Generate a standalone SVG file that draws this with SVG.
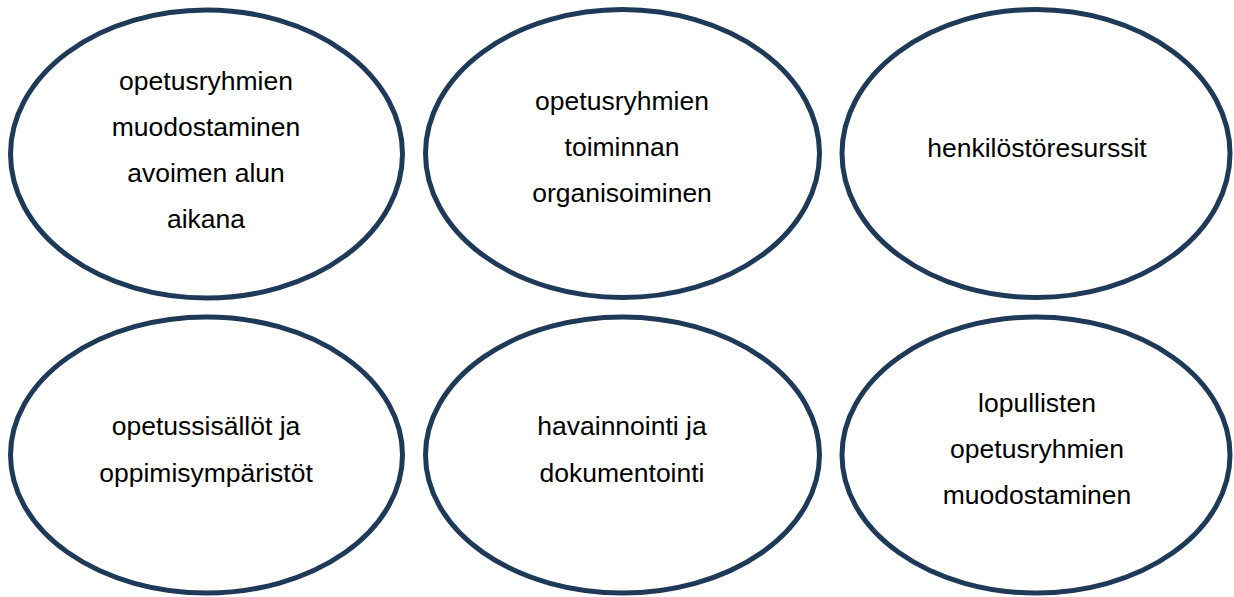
<svg xmlns="http://www.w3.org/2000/svg" width="1234" height="597" viewBox="0 0 1234 597">
<style>
.n{fill:#ffffff;stroke:#1f3a58;stroke-width:5}
.t{font-family:"Liberation Sans",Arial,sans-serif;font-size:26.5px;fill:#000000;text-anchor:middle}
</style>
<rect width="1234" height="597" fill="#ffffff"/>
<g id="connectors"></g>
<g id="n1"><ellipse class="n" cx="206.5" cy="154" rx="196" ry="144"/>
<text class="t"><tspan x="206" y="90">opetusryhmien</tspan><tspan x="206" y="136">muodostaminen</tspan><tspan x="206" y="182">avoimen alun</tspan><tspan x="206" y="228">aikana</tspan></text></g>
<g id="n2"><ellipse class="n" cx="622.5" cy="153.5" rx="197" ry="144"/>
<text class="t"><tspan x="622" y="110">opetusryhmien</tspan><tspan x="622" y="156">toiminnan</tspan><tspan x="622" y="202">organisoiminen</tspan></text></g>
<g id="n3"><ellipse class="n" cx="1036" cy="153.5" rx="194" ry="144"/>
<text class="t"><tspan x="1037" y="157">henkilöstöresurssit</tspan></text></g>
<g id="n4"><ellipse class="n" cx="206.5" cy="455" rx="196" ry="138"/>
<text class="t"><tspan x="206" y="435">opetussisällöt ja</tspan><tspan x="206" y="482">oppimisympäristöt</tspan></text></g>
<g id="n5"><ellipse class="n" cx="622.5" cy="455" rx="197" ry="138"/>
<text class="t"><tspan x="622" y="435">havainnointi ja</tspan><tspan x="622" y="482">dokumentointi</tspan></text></g>
<g id="n6"><ellipse class="n" cx="1036" cy="455" rx="194" ry="138"/>
<text class="t"><tspan x="1037" y="412">lopullisten</tspan><tspan x="1037" y="458">opetusryhmien</tspan><tspan x="1037" y="504">muodostaminen</tspan></text></g>
</svg>
